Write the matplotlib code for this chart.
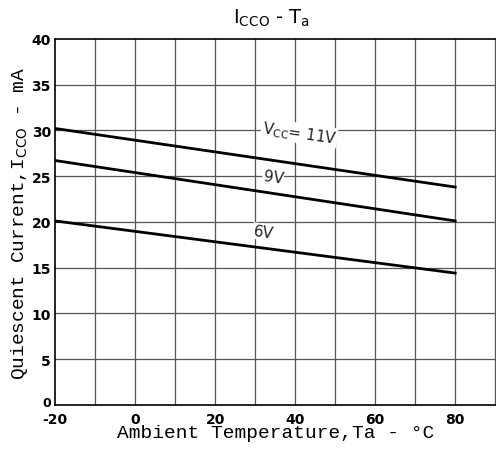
import matplotlib
matplotlib.use("Agg")
import matplotlib.pyplot as plt
import matplotlib.transforms as mtransforms
import numpy as np

temps = [-20, 80]
i_11v = [30.2, 23.8]
i_9v = [26.7, 20.1]
i_6v = [20.1, 14.4]
xticks = [-20, 0, 20, 40, 60, 80]
yticks = [0, 5, 10, 15, 20, 25, 30, 35, 40]

fig = plt.figure(figsize=(4.96, 4.52), dpi=100)
ax = fig.add_axes([0.111, 0.102, 0.889, 0.810])
ax.set_xlim(-20, 90.2)
ax.set_ylim(0, 40)

for x in np.arange(-10, 91, 10):
    ax.axvline(x, color="#555555", lw=0.9, zorder=1)
for y in np.arange(5, 40, 5):
    ax.axhline(y, color="#555555", lw=0.9, zorder=1)

for s in [i_11v, i_9v, i_6v]:
    ax.plot(temps, s, color="black", lw=2, zorder=3)

rot = -8.3
ax.text(41, 29.7, r"V$_{\mathrm{CC}}$= 11V", rotation=rot, ha="center", va="center",
        fontsize=11, family="DejaVu Sans", color="#222222",
        bbox=dict(facecolor="white", edgecolor="none", pad=0.5), zorder=4)
ax.text(34.5, 24.9, "9V", rotation=rot, ha="center", va="center", fontsize=11,
        color="#222222", bbox=dict(facecolor="white", edgecolor="none", pad=0.5), zorder=4)
ax.text(32, 18.9, "6V", rotation=rot, ha="center", va="center", fontsize=11,
        color="#222222", bbox=dict(facecolor="white", edgecolor="none", pad=0.5), zorder=4)

ax.set_xticks(xticks)
ax.set_yticks(yticks)
ax.set_xticklabels([str(t) for t in xticks], fontweight="bold", fontsize=10)
ax.set_yticklabels([str(t) for t in yticks], fontweight="bold", fontsize=10)
ax.tick_params(axis="x", length=0, pad=5)
ax.tick_params(axis="y", length=0, pad=3)
for sp in ax.spines.values():
    sp.set_linewidth(1.2)
ax.spines["right"].set_visible(False)

# nudge the "0" y label up a little so it clears the "-20" x label
zero_lbl = ax.get_yticklabels()[0]
zero_lbl.set_fontsize(9)
zero_lbl.set_transform(zero_lbl.get_transform() +
                       mtransforms.ScaledTranslation(0, 3 / 72, fig.dpi_scale_trans))

ax.set_xlabel("Ambient Temperature,Ta - °C", family="Liberation Mono", fontsize=14, labelpad=-1)
ax.set_ylabel(r"Quiescent Current,I$_{\mathrm{CCO}}$ - mA", family="Liberation Mono", fontsize=14, labelpad=1)
fig.text(0.548, 0.960, r"I$_{\mathrm{CCO}}$ - T$_{\mathrm{a}}$", ha="center", va="center",
         family="DejaVu Sans", fontsize=14)

fig.savefig("out.png", dpi=100)
